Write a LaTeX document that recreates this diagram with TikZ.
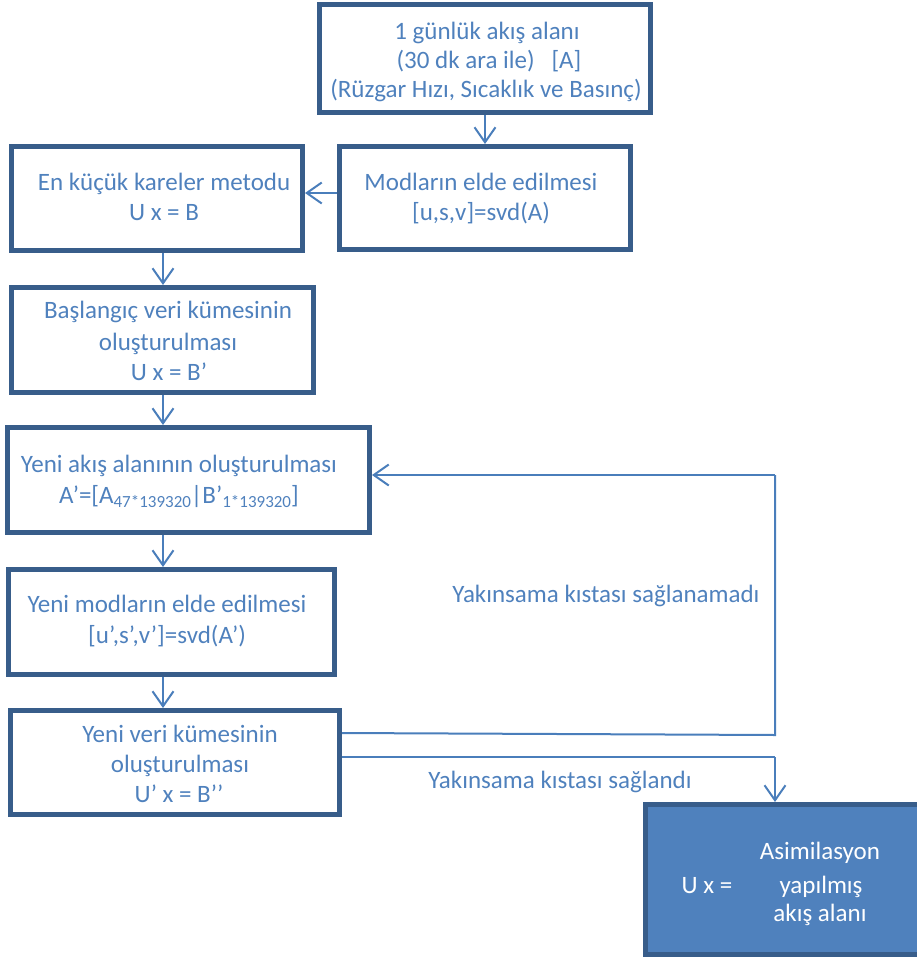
\documentclass[tikz,border=0pt]{standalone}
\usepackage{fontspec}
\setmainfont{Carlito}
\usetikzlibrary{arrows.meta}
\definecolor{txtblue}{RGB}{79,129,189}
\definecolor{boxblue}{RGB}{56,93,138}
\definecolor{lineblue}{RGB}{74,126,187}
\definecolor{fillblue}{RGB}{79,129,189}
\begin{document}
\begin{tikzpicture}[x=1pt,y=-1pt,
  box/.style={draw=boxblue, line width=5pt, rectangle, inner sep=0pt},
  txt/.style={font=\fontsize{25}{29}\selectfont, text=txtblue, inner sep=0pt, anchor=base},
  wtxt/.style={font=\fontsize{25}{29}\selectfont, text=white, inner sep=0pt, anchor=base},
  conn/.style={draw=lineblue, line width=2pt, -{Straight Barb[length=15pt,width=21pt,line width=2pt]}},
  plain/.style={draw=lineblue, line width=2pt}]
\useasboundingbox (0,0) rectangle (916,958);
% boxes (centre lines of borders)
\node[box, minimum width=331pt, minimum height=108pt] (b1) at (485,58.5) {};
\node[box, minimum width=291pt, minimum height=103pt] (b2) at (485,198) {};
\node[box, minimum width=291pt, minimum height=104pt] (b3) at (157,198.5) {};
\node[box, minimum width=302pt, minimum height=105pt] (b4) at (162.5,340) {};
\node[box, minimum width=362pt, minimum height=105pt] (b5) at (188.5,480) {};
\node[box, minimum width=326pt, minimum height=105pt] (b6) at (171.5,622) {};
\node[box, minimum width=329pt, minimum height=104pt] (b7) at (175,762.5) {};
\node[box, fill=fillblue, minimum width=280pt, minimum height=150pt] (b8) at (785.5,879.5) {};
% texts
\node[txt] (t1a) at (487,40) {1 günlük akış alanı};
\node[txt] (t1b) at (489,68) {(30 dk ara ile)~~~[A]};
\node[txt] (t1c) at (486,97) {(Rüzgar Hızı, Sıcaklık ve Basınç)};
\node[txt] (t2a) at (481,190) {Modların elde edilmesi};
\node[txt] (t2b) at (481,220) {[u,s,v]=svd(A)};
\node[txt] (t3a) at (164,190) {En küçük kareler metodu};
\node[txt] (t3b) at (164,220) {U x = B};
\node[txt] (t4a) at (168,318) {Başlangıç veri kümesinin};
\node[txt] (t4b) at (168,350) {oluşturulması};
\node[txt] (t4c) at (169,380) {U x = B’};
\node[txt] (t5a) at (179,472) {Yeni akış alanının oluşturulması};
\node[txt] (t5b) at (179,503) {A’=[A{\fontsize{17}{17}\selectfont\raisebox{-4pt}{47*139320}}|B’{\fontsize{17}{17}\selectfont\raisebox{-4pt}{1*139320}}]};
\node[txt] (t6a) at (167,612) {Yeni modların elde edilmesi};
\node[txt] (t6b) at (167,643) {[u’,s’,v’]=svd(A’)};
\node[txt] (t7a) at (180,742) {Yeni veri kümesinin};
\node[txt] (t7b) at (180,772) {oluşturulması};
\node[txt] (t7c) at (179,802) {U’ x = B’’};
\node[txt] (l1) at (606,602) {Yakınsama kıstası sağlanamadı};
\node[txt] (l2) at (560,788) {Yakınsama kıstası sağlandı};
\node[wtxt] (t8a) at (707,893) {U x =};
\node[wtxt] (t8b) at (820,859) {Asimilasyon};
\node[wtxt] (t8c) at (821,893) {yapılmış};
\node[wtxt] (t8d) at (820,921) {akış alanı};
% connectors
\draw[conn] (b1.south) -- (b1.south |- b2.north);
\draw[conn] ([yshift=5pt]b2.west) -- ([yshift=5pt]b2.west -| b3.east);
\coordinate (xa) at (163,0);
\draw[conn] (b3.south -| xa) -- (b4.north -| xa);
\draw[conn] (b4.south -| xa) -- (b5.north -| xa);
\draw[conn] (b5.south -| xa) -- (b6.north -| xa);
\draw[conn] (b6.south -| xa) -- (b7.north -| xa);
\coordinate (c1) at (775,735);
\coordinate (c2) at (775,475);
\coordinate (c3) at (775,757);
\draw[plain] ([yshift=29.5pt]b7.east) -- (c1) -- (c2);
\draw[conn] (c2) -- (c2 -| b5.east);
\draw[plain] ([yshift=5.5pt]b7.east) -- (c3);
\draw[conn] (c3) -- (c3 |- b8.north);
\end{tikzpicture}
\end{document}
